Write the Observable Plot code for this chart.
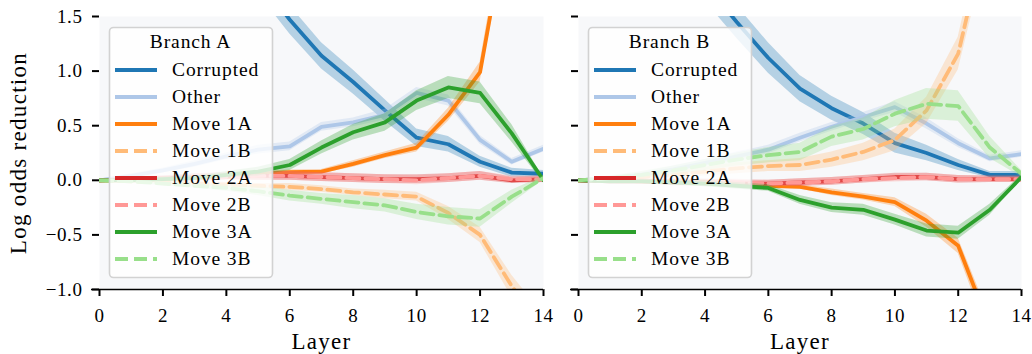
<!DOCTYPE html>
<html><head><meta charset="utf-8">
<script src="https://cdn.jsdelivr.net/npm/d3@7"></script>
<script src="https://cdn.jsdelivr.net/npm/@observablehq/plot@0.6"></script>
<style>
body{margin:0;background:#fff;}
#chart{display:flex;width:1032px;height:354px;}
#chart svg{overflow:visible;flex:none;}
#chart svg text{font-family:'Liberation Serif','Noto Serif','DejaVu Serif',serif;}
g[aria-label$="axis tick"] path, g[aria-label$="axis"] .tick line{stroke-width:2px;}
g[aria-label$="axis tick label"] text, g[aria-label$="axis"] .tick text{letter-spacing:0.6px;}
</style></head><body><div id="chart"></div>
<script>
const layers = [0,1,2,3,4,5,6,7,8,9,10,11,12,13,14];
const xTicks = [0,2,4,6,8,10,12,14];
const yTicks = [-1,-0.5,0,0.5,1,1.5];
const seriesNames = ["Corrupted","Other","Move 1A","Move 1B","Move 2A","Move 2B","Move 3A","Move 3B"];
const seriesColors = ["#1f77b4","#aec7e8","#ff7f0e","#ffbb78","#d62728","#ff9896","#2ca02c","#98df8a"];
const seriesDashed = [false,false,false,true,false,true,false,true];

// Branch A
const corruptedA = [3.4,3.1,2.8,2.5,2.2,1.85,1.47,1.14,0.90,0.64,0.39,0.33,0.17,0.07,0.06];
const otherA     = [0,0.04,0.09,0.15,0.22,0.28,0.31,0.49,0.53,0.60,0.80,0.73,0.37,0.17,0.29];
const move1A_A   = [0,0.0,0.01,0.02,0.03,0.06,0.075,0.08,0.15,0.23,0.30,0.60,0.99,2.6,4.5];
const move1B_A   = [0,-0.01,-0.02,-0.03,-0.04,-0.05,-0.06,-0.08,-0.11,-0.13,-0.15,-0.30,-0.50,-0.97,-1.35];
const move2A_A   = [0,0.01,0.02,0.03,0.04,0.04,0.04,0.03,0.02,0.01,0.01,0.02,0.04,0.0,0.01];
const move2B_A   = [0,0.01,0.02,0.02,0.03,0.04,0.04,0.03,0.02,0.01,0.0,0.02,0.04,0.01,0.01];
const move3A_A   = [0,0.0,0.01,0.02,0.05,0.08,0.14,0.30,0.44,0.53,0.73,0.85,0.80,0.43,0.0];
const move3B_A   = [0,-0.01,-0.03,-0.05,-0.07,-0.10,-0.14,-0.17,-0.20,-0.23,-0.29,-0.33,-0.35,-0.15,0.02];
const corruptedA_err = [0.2,0.2,0.18,0.17,0.15,0.14,0.13,0.12,0.11,0.1,0.08,0.07,0.05,0.04,0.03];
const otherA_err     = [0.01,0.02,0.02,0.03,0.03,0.04,0.04,0.04,0.04,0.05,0.05,0.05,0.04,0.03,0.03];
const move1A_A_err   = [0.01,0.01,0.01,0.01,0.02,0.02,0.02,0.02,0.03,0.03,0.04,0.06,0.09,0.15,0.25];
const move1B_A_err   = [0.01,0.01,0.01,0.02,0.02,0.02,0.03,0.03,0.03,0.04,0.04,0.06,0.07,0.1,0.12];
const move2A_A_err   = [0.01,0.02,0.02,0.03,0.03,0.04,0.04,0.04,0.04,0.04,0.04,0.04,0.04,0.03,0.03];
const move2B_A_err   = [0.01,0.02,0.02,0.03,0.03,0.04,0.04,0.04,0.04,0.04,0.04,0.04,0.04,0.03,0.03];
const move3A_A_err   = [0.01,0.01,0.02,0.02,0.03,0.04,0.05,0.06,0.07,0.08,0.09,0.1,0.1,0.08,0.02];
const move3B_A_err   = [0.01,0.01,0.02,0.02,0.03,0.04,0.05,0.05,0.06,0.06,0.07,0.08,0.08,0.06,0.02];

// Branch B
const corruptedB = [3.0,2.7,2.4,2.1,1.8,1.45,1.12,0.84,0.66,0.52,0.34,0.25,0.14,0.05,0.05];
const otherB     = [0,0.02,0.05,0.10,0.16,0.22,0.28,0.39,0.49,0.58,0.67,0.52,0.34,0.20,0.24];
const move1A_B   = [0,0.0,-0.01,-0.01,-0.02,-0.03,-0.05,-0.06,-0.11,-0.15,-0.20,-0.37,-0.60,-1.35,-2.2];
const move1B_B   = [0,0.01,0.03,0.05,0.08,0.11,0.13,0.14,0.19,0.26,0.37,0.64,1.16,2.4,3.6];
const move2A_B   = [0,-0.01,-0.01,-0.02,-0.02,-0.03,-0.03,-0.02,-0.01,0.01,0.03,0.03,0.01,0.01,0.01];
const move2B_B   = [0,-0.01,-0.01,-0.01,-0.02,-0.02,-0.03,-0.02,-0.01,0.01,0.02,0.03,0.01,0.01,0.01];
const move3A_B   = [0,-0.01,-0.01,-0.02,-0.03,-0.05,-0.07,-0.18,-0.25,-0.27,-0.36,-0.46,-0.48,-0.27,0.03];
const move3B_B   = [0,0.02,0.05,0.09,0.14,0.19,0.23,0.26,0.40,0.47,0.61,0.70,0.68,0.30,0.06];
const corruptedB_err = [0.2,0.2,0.18,0.17,0.16,0.15,0.14,0.12,0.11,0.1,0.09,0.07,0.05,0.03,0.03];
const otherB_err     = [0.01,0.02,0.02,0.03,0.03,0.04,0.04,0.04,0.04,0.04,0.05,0.05,0.04,0.03,0.03];
const move1A_B_err   = [0.01,0.01,0.01,0.01,0.02,0.02,0.02,0.02,0.03,0.03,0.04,0.06,0.07,0.1,0.15];
const move1B_B_err   = [0.01,0.01,0.02,0.03,0.04,0.05,0.05,0.06,0.07,0.08,0.1,0.12,0.15,0.2,0.3];
const move2A_B_err   = [0.01,0.02,0.02,0.03,0.03,0.03,0.03,0.035,0.035,0.035,0.035,0.035,0.035,0.03,0.03];
const move2B_B_err   = [0.01,0.02,0.02,0.03,0.03,0.03,0.03,0.035,0.035,0.035,0.035,0.035,0.035,0.03,0.03];
const move3A_B_err   = [0.01,0.01,0.02,0.02,0.03,0.03,0.03,0.04,0.045,0.05,0.05,0.06,0.06,0.05,0.02];
const move3B_B_err   = [0.01,0.02,0.03,0.04,0.05,0.06,0.07,0.08,0.09,0.1,0.12,0.14,0.14,0.1,0.03];

const FONT = "'Liberation Serif', 'Noto Serif', 'DejaVu Serif', serif";

function panel(values, errs, title, opts) {
  const marks = [Plot.frame({fill: "#f7f8fa"})];
  seriesNames.forEach((name, i) => {
    const rows = layers.map((l, j) => ({layer: l, value: values[i][j], lo: values[i][j] - errs[i][j], hi: values[i][j] + errs[i][j]}));
    marks.push(Plot.areaY(rows, {x: "layer", y1: "lo", y2: "hi", fill: seriesColors[i], fillOpacity: 0.3, clip: true}));
    marks.push(Plot.lineY(rows, {x: "layer", y: "value", stroke: seriesColors[i], strokeWidth: 3.8,
      strokeDasharray: seriesDashed[i] ? "13,6" : undefined, strokeLinejoin: "round", clip: true}));
  });
  marks.push(Plot.ruleY([-1], {stroke: "black", strokeWidth: 1.6, insetLeft: -8}));
  if (opts.yLabel) marks.push(Plot.text([opts.yLabel], {text: d => d, frameAnchor: "left", textAnchor: "middle", dx: -81, rotate: -90, fontSize: 23}));
  marks.push(Plot.text(["Layer"], {text: d => d, frameAnchor: "bottom", textAnchor: "middle", dy: 59, fontSize: 23}));
  const out = Plot.plot({
    width: opts.width, height: 354,
    marginTop: 16, marginBottom: 65, marginLeft: opts.marginLeft, marginRight: opts.marginRight,
    style: {fontFamily: FONT, fontSize: "19px", color: "black", background: "transparent", overflow: "visible"},
    x: {domain: [0, 14], ticks: xTicks, tickSize: 7, tickPadding: 12, label: null},
    y: {domain: [-1, 1.5], ticks: yTicks, tickSize: 7, tickPadding: 10, label: null,
        tickFormat: opts.yLabel ? d3.format(".1f") : () => ""},
    marks
  });
  const svg = out.tagName.toLowerCase() === "svg" ? out : out.querySelector("svg");
  d3.select(svg).selectAll('g[aria-label="text"] text').attr("letter-spacing", "1.3px");
  const lx = opts.legendX;
  const g = d3.select(svg).append("g").attr("font-family", FONT);
  g.append("rect").attr("x", lx + 0.5).attr("y", 27.5).attr("width", 163).attr("height", 250).attr("rx", 4)
    .attr("fill", "white").attr("fill-opacity", 0.8).attr("stroke", "#d2d2d2").attr("stroke-width", 1.6);
  g.append("text").attr("x", lx + 81.5).attr("y", 48).attr("text-anchor", "middle").attr("font-size", 19.5)
    .attr("letter-spacing", "0.9px").attr("fill", "black").text(title);
  seriesNames.forEach((name, i) => {
    const y = 70 + 27 * i;
    g.append("line").attr("x1", lx + 6).attr("x2", lx + 48).attr("y1", y).attr("y2", y)
      .attr("stroke", seriesColors[i]).attr("stroke-width", 3.8)
      .attr("stroke-dasharray", seriesDashed[i] ? "13,6" : null);
    g.append("text").attr("x", lx + 63).attr("y", y).attr("dy", "0.33em").attr("text-anchor", "start")
      .attr("font-size", 19.5).attr("letter-spacing", "0.9px").attr("fill", "black").text(name);
  });
  return out;
}

const chart = document.getElementById("chart");
chart.append(panel(
  [corruptedA, otherA, move1A_A, move1B_A, move2A_A, move2B_A, move3A_A, move3B_A],
  [corruptedA_err, otherA_err, move1A_A_err, move1B_A_err, move2A_A_err, move2B_A_err, move3A_A_err, move3B_A_err],
  "Branch A", {width: 550, marginLeft: 99, marginRight: 7, yLabel: "Log odds reduction", legendX: 109}));
chart.append(panel(
  [corruptedB, otherB, move1A_B, move1B_B, move2A_B, move2B_B, move3A_B, move3B_B],
  [corruptedB_err, otherB_err, move1A_B_err, move1B_B_err, move2A_B_err, move2B_B_err, move3A_B_err, move3B_B_err],
  "Branch B", {width: 482, marginLeft: 28, marginRight: 11, yLabel: null, legendX: 38}));
</script></body></html>
